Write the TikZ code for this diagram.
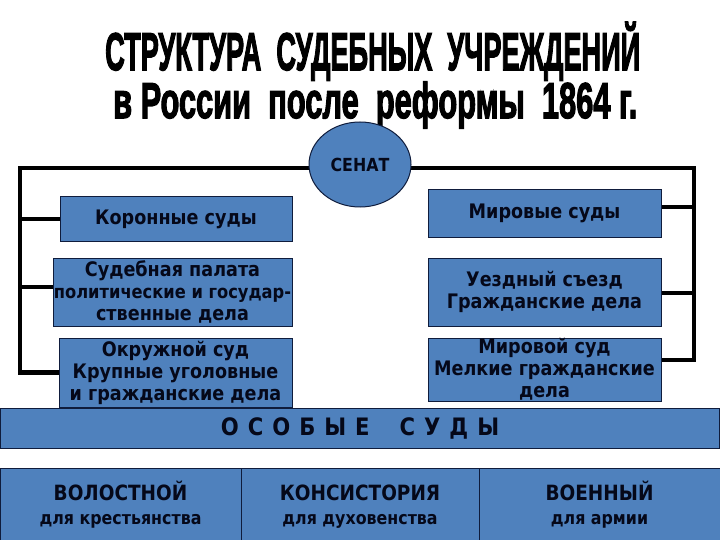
\documentclass[tikz,border=0pt]{standalone}
\usepackage{fontspec}
\usepackage{graphicx}
\usetikzlibrary{backgrounds,shapes.geometric}
\setmainfont{DejaVu Sans}
\newfontfamily\boxfont[FakeStretch=0.88]{DejaVu Sans}
\newfontfamily\titlefont[BoldFeatures={FakeBold=3}]{Liberation Sans}
\definecolor{boxblue}{RGB}{79,129,189}
\definecolor{navy}{RGB}{15,28,60}
\definecolor{ink}{RGB}{5,8,25}
\newcommand{\tlineA}{\resizebox{535pt}{5.3\height}{\fontsize{10}{12}\titlefont\bfseries СТРУКТУРА\ \ СУДЕБНЫХ\ \ УЧРЕЖДЕНИЙ}}
\newcommand{\tlineB}{\resizebox{524pt}{5.03\height}{\fontsize{10}{12}\titlefont\bfseries в России\ \ после\ \ реформы\ \ 1864 г.}}
\tikzset{
  box/.style={draw=navy, line width=1pt, fill=boxblue, inner sep=0pt, align=center, text=ink,
    font=\boxfont\bfseries\fontsize{20}{22}\selectfont},
  conn/.style={line width=4.5pt, black},
  ttl/.style={inner sep=0pt, anchor=base west, text=black}
}
\begin{document}
\begin{tikzpicture}[x=1pt,y=-1pt]
\useasboundingbox (0,0) rectangle (720,540);
% title
\node[ttl] (t1) at (105,70) {\tlineA};
\node[ttl] (t2) at (113,118) {\tlineB};
% senat
\node[box, ellipse, minimum width=102pt, minimum height=85pt, font=\boxfont\bfseries\fontsize{18}{20}\selectfont] (senat) at (360,164.5) {СЕНАТ};
% left column
\node[box, minimum width=232pt, minimum height=44pt] (kor) at (176,219) {Коронные суды};
\node[box, minimum width=239pt, minimum height=68pt] (sud) at (172.5,292) {Судебная палата\\{\fontsize{18.5}{22}\selectfont политические и государ-}\\ственные дела};
\node[box, minimum width=233pt, minimum height=69pt] (okr) at (175.5,372.5) {Окружной суд\\Крупные уголовные\\и гражданские дела};
% right column
\node[box, minimum width=233pt, minimum height=47pt] (mir) at (544.5,213.5) {Мировые суды};
\node[box, minimum width=233pt, minimum height=68pt] (uezd) at (544.5,292) {Уездный съезд\\Гражданские дела};
\node[box, minimum width=233pt, minimum height=63pt] (mirs) at (544.5,369.5) {Мировой суд\\Мелкие гражданские\\дела};
% special courts band
\node[box, minimum width=719pt, minimum height=40pt, font=\boxfont\bfseries\fontsize{24}{26}\selectfont] (band) at (360,428)
  {О\hspace{9pt}С\hspace{9pt}О\hspace{9pt}Б\hspace{9pt}Ы\hspace{9pt}Е\hspace{30pt}С\hspace{9pt}У\hspace{9pt}Д\hspace{9pt}Ы};
% bottom cells
\node[box, minimum width=241pt, minimum height=72pt] (vol) at (120.5,504.5)
  {{\fontsize{21}{24}\selectfont ВОЛОСТНОЙ}\\[2pt]{\fontsize{18}{20}\selectfont для крестьянства}};
\node[box, minimum width=238pt, minimum height=72pt] (kons) at (360,504.5)
  {{\fontsize{21}{24}\selectfont КОНСИСТОРИЯ\vphantom{Й}}\\[2pt]{\fontsize{18}{20}\selectfont для духовенства}};
\node[box, minimum width=241pt, minimum height=72pt] (voen) at (599.5,504.5)
  {{\fontsize{21}{24}\selectfont ВОЕННЫЙ}\\[2pt]{\fontsize{18}{20}\selectfont для армии}};
% connectors
\coordinate (tl) at (20,168);
\coordinate (tr) at (694,168);
\begin{scope}[on background layer]
\fill[white] (0,0) rectangle (720,540);
\draw[conn] (tl -| senat) -- (tl) |- (okr.west);
\draw[conn] (kor.west) -- +(-39.5,0);
\draw[conn] ([yshift=5pt]sud.west) -- +(-32.5,0);
\draw[conn] (tr -| senat) -- (tr) |- ([yshift=9.5pt]mirs.east);
\draw[conn] ([yshift=6.5pt]mir.east) -- +(32.5,0);
\draw[conn] ([yshift=-1pt]uezd.east) -- +(32.5,0);
\end{scope}
\end{tikzpicture}
\end{document}
